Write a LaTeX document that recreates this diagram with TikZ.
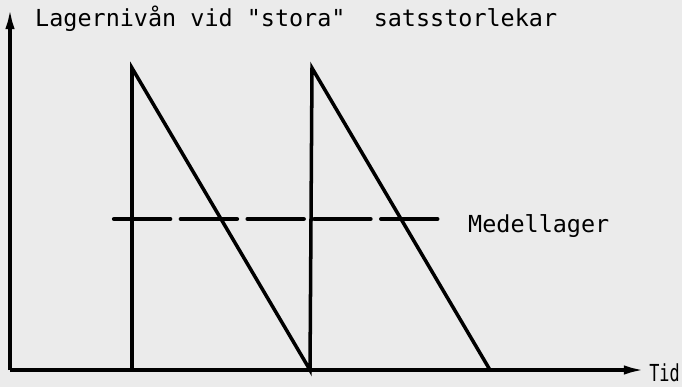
\documentclass[tikz,border=0pt]{standalone}
\usepackage{fontspec}
\setmonofont{DejaVu Sans Mono}
\usetikzlibrary{arrows.meta}
\tikzset{axis/.style={line width=3pt,-{Latex[length=18pt,width=8pt]}},
         saw/.style={line width=3pt,line cap=round},
         medel/.style={line width=3.6pt,line cap=round,dash pattern=on 48pt off 9pt},
         lbl/.style={inner sep=0pt,font=\ttfamily\fontsize{20}{22}\selectfont}
         }
\begin{document}
\begin{tikzpicture}[x=0.03cm,y=-0.03cm]
        \useasboundingbox (0,0) rectangle (682,387);
        \fill[white!92!black] (0,0) rectangle (682,387);
        % axes
        \coordinate (O) at (10,370);
        \coordinate (Y) at (10,8);
        \coordinate (X) at (645,370);
        \draw[axis] (O) -- (Y);
        \draw[axis] (O) -- (X);
        % saw teeth
        \coordinate (A1) at (132,370);
        \coordinate (T1) at (132,68);
        \coordinate (A2) at (310,370);
        \coordinate (T2) at (312,68);
        \coordinate (A3) at (490,370);
        \draw[saw] (A1) -- (T1) -- (A2) -- (T2) -- (A3);
        % mean level
        \coordinate (M1) at (114,219);
        \coordinate (M2) at (441,219);
        \draw[medel] (M1) -- (M2);
        \node[lbl,anchor=west] (medel) at (468,226) {Medellager};
        \node[lbl,anchor=east] (tid) at (680,373) {\scalebox{0.72}[1]{Tid}};
        \node[lbl,anchor=west] (titel) at (35,19) {Lagernivån vid "stora"\ \ satsstorlekar};
\end{tikzpicture}
\end{document}
